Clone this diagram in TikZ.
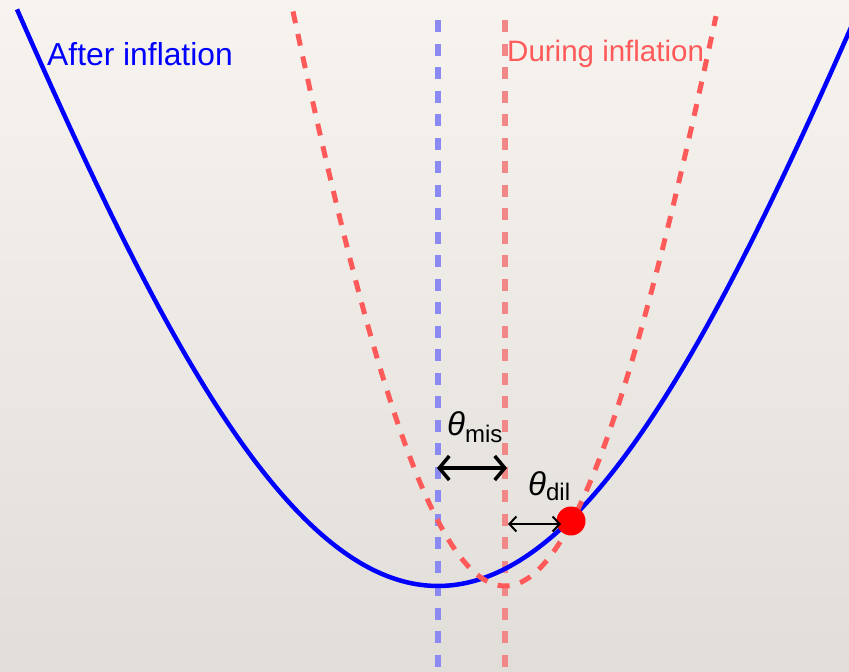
\documentclass[tikz,border=0pt]{standalone}
\usepackage{fontspec}
\setmainfont{Liberation Sans}
\usetikzlibrary{arrows.meta}
\definecolor{bgtop}{RGB}{247,244,239}
\definecolor{bgmid}{RGB}{241,238,233}
\definecolor{bgbot}{RGB}{225,222,217}
\definecolor{bluev}{RGB}{138,138,242}
\definecolor{redv}{RGB}{242,135,135}
\definecolor{redc}{RGB}{255,90,90}
\definecolor{curveblue}{RGB}{0,0,255}
\tikzset{
  vline/.style={line width=6pt, dash pattern=on 12pt off 11.5pt},
  redcurve/.style={redc, line width=5pt, dash pattern=on 12pt off 11pt},
  bluecurve/.style={curveblue, line width=4.5pt},
  bigarrow/.style={black, line width=3.5pt, {Straight Barb[length=10pt,width=24pt]}-{Straight Barb[length=10pt,width=24pt]}},
  smallarrow/.style={black, line width=2pt, {Straight Barb[length=7pt,width=15pt]}-{Straight Barb[length=7pt,width=15pt]}},
  lbl/.style={inner sep=0pt, anchor=base west}
}
\newcommand{\thfont}{\fontsize{33}{33}\selectfont\itshape}
\newcommand{\subfnt}{\fontsize{24}{24}\selectfont\upshape}
\begin{document}
\begin{tikzpicture}[x=1pt,y=-1pt]
\useasboundingbox (0,0) rectangle (849,672);
\shade[top color=bgtop, middle color=bgmid, bottom color=bgbot] (0,0) rectangle (849,672);
\begin{scope}
\clip (0,0) rectangle (849,672);
% vertical lines
\coordinate (bvtop) at (438,20);
\coordinate (bvbot) at (438,680);
\coordinate (rvtop) at (505,20);
\coordinate (rvbot) at (505,680);
\draw[vline, bluev] (bvtop) -- (bvbot);
\draw[vline, redv] (rvtop) -- (rvbot);
% after inflation potential
\draw[bluecurve] plot[domain=-421:415, samples=240] ({438+\x},{586-692*(1-cos(deg(\x/300)))});
% during inflation potential
\draw[redcurve] plot[domain=-212:211, samples=200] ({505+\x},{586-817*(1-cos(deg(\x/167)))});
\end{scope}
% labels
\node[lbl, curveblue] (after) at (47,65) {\fontsize{31.8}{31.8}\selectfont After inflation};
\node[lbl, redc] (during) at (507,61) {\fontsize{29.5}{29.5}\selectfont During inflation};
\node[lbl] (tmis) at (447,435) {{\thfont θ}{\subfnt\raisebox{-7pt}{mis}}};
\node[lbl] (tdil) at (528,495) {{\thfont θ}{\subfnt\raisebox{-5pt}{dil}}};
% arrows
\coordinate (misL) at (437,468);
\coordinate (misR) at (507,468);
\draw[bigarrow] (misL) -- (misR);
\node[circle, fill=red, minimum size=29pt, inner sep=0pt] (dot) at (571,521) {};
\coordinate (dilL) at (508,524);
\coordinate (dilR) at (561,524);
\draw[smallarrow] (dilL) -- (dilR);
\end{tikzpicture}
\end{document}
